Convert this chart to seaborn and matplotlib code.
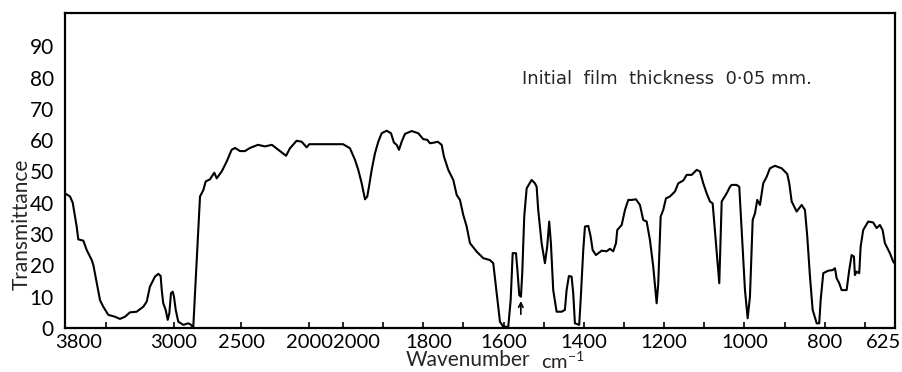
import numpy as np
import pandas as pd
import matplotlib
matplotlib.use("Agg")
import matplotlib.pyplot as plt
import matplotlib.transforms as mtransforms
from matplotlib.ticker import FixedLocator, FixedFormatter
import seaborn as sns

# ---------------- data (wavenumber cm^-1, transmittance %) ----------------
wn_high = [3800, 3763, 3743, 3714, 3702, 3665, 3640, 3603, 3591, 3566, 3542, 3518,
           3481, 3432, 3395, 3358, 3321, 3272, 3223, 3198, 3174, 3137, 3112, 3095,
           3087, 3076, 3058, 3043, 3031, 3019, 3006, 2997, 2984, 2965, 2928, 2891,
           2871, 2855, 2805, 2781, 2763, 2731, 2700, 2682, 2645, 2608, 2572, 2547,
           2510, 2474, 2437, 2378, 2326, 2275, 2216, 2171, 2142, 2093, 2056, 2019,
           2000]
tr_high = [43.0, 42.0, 40.0, 32.4, 28.3, 27.9, 24.9, 21.7, 20.1, 14.3, 8.9, 6.8,
           4.2, 3.6, 2.9, 3.6, 5.0, 5.2, 6.8, 8.4, 13.2, 16.4, 17.3, 16.6,
           12.1, 7.9, 5.8, 2.6, 4.7, 11.1, 11.6, 10.0, 5.8, 2.0, 1.0, 1.5,
           1.0, 0.0, 42.0, 44.0, 46.8, 47.5, 49.6, 47.8, 50.0, 53.2, 56.9, 57.5,
           56.5, 56.5, 57.5, 58.5, 58.0, 58.5, 56.5, 55.0, 57.4, 59.8, 59.5, 57.7,
           58.7]

wn_low = [1999.9, 1982.6, 1970.1, 1961.9, 1953.4, 1945.2, 1939.5, 1934.5, 1928.5,
          1920.3, 1912.1, 1903.6, 1891.2, 1880.4, 1873.0, 1866.3, 1860.5, 1853.8,
          1845.6, 1828.9, 1812.5, 1800.0, 1790.0, 1783.3, 1773.3, 1764.1, 1754.2,
          1748.4, 1737.7, 1725.3, 1716.8, 1708.6, 1700.4, 1691.9, 1683.7, 1667.0,
          1650.6, 1634.1, 1625.7, 1617.2, 1609.0, 1600.7, 1588.3, 1582.3, 1577.3,
          1569.1, 1564.9, 1560.9, 1556.7, 1553.5, 1548.5, 1542.5, 1530.1, 1521.9,
          1517.6, 1513.7, 1505.2, 1497.0, 1491.3, 1486.3, 1482.1, 1476.3, 1467.9,
          1455.4, 1447.2, 1443.0, 1437.3, 1430.5, 1426.5, 1422.3, 1411.6, 1408.0,
          1401.5, 1397.3, 1389.0, 1383.1, 1378.1, 1369.9, 1355.7, 1343.2, 1335.0,
          1326.8, 1320.0, 1316.8, 1305.8, 1297.6, 1289.4, 1280.9, 1270.2, 1260.3,
          1252.1, 1243.6, 1235.4, 1227.2, 1218.7, 1214.7, 1208.7, 1202.3, 1195.5,
          1185.6, 1173.1, 1164.9, 1152.4, 1143.9, 1131.5, 1119.0, 1110.8, 1102.6,
          1094.1, 1085.9, 1079.2, 1071.0, 1062.7, 1056.7, 1044.3, 1036.1, 1031.8,
          1019.4, 1012.9, 1006.9, 998.7, 992.0, 986.3, 979.5, 973.8, 968.1, 961.4,
          953.2, 944.7, 936.5, 924.0, 907.3, 893.4, 888.4, 882.4, 870.0, 857.5,
          849.3, 843.5, 836.8, 830.1, 820.1, 813.7, 810.2, 803.7, 791.3, 780.3,
          774.6, 770.4, 763.9, 757.9, 745.5, 739.0, 733.0, 727.3, 724.8, 720.6,
          714.1, 710.6, 704.2, 691.7, 679.3, 670.8, 662.6, 655.9, 650.2, 637.7,
          629.5, 625.0]
tr_low = [58.7, 57.4, 53.7, 50.5, 46.2, 41.1, 42.0, 45.7, 50.5,
          55.8, 59.5, 62.2, 63.0, 62.2, 59.2, 58.5, 56.9, 59.5,
          62.0, 62.9, 62.2, 60.3, 60.1, 59.0, 59.2, 59.5, 58.5,
          54.7, 50.5, 47.3, 42.5, 40.9, 36.1, 32.4, 27.1, 24.4,
          22.3, 21.7, 20.7, 11.1, 2.0, 0.4, 0.4, 8.9, 23.9,
          23.9, 17.5, 10.5, 10.0, 17.5, 35.6, 44.6, 47.3, 46.2,
          45.1, 37.7, 27.1, 20.7, 26.0, 34.0, 27.1, 12.1, 5.2,
          5.2, 5.8, 12.1, 16.6, 16.4, 11.1, 1.5, 1.0, 8.9,
          24.9, 32.4, 32.6, 29.2, 24.9, 23.3, 24.7, 24.5, 25.3,
          24.5, 27.1, 31.3, 32.9, 37.7, 40.9, 40.9, 41.1, 39.3,
          34.5, 34.0, 28.1, 19.6, 7.9, 14.3, 35.6, 37.7, 41.4,
          42.0, 43.6, 46.2, 47.1, 48.9, 48.9, 50.5, 50.0, 46.2,
          43.0, 40.4, 39.8, 27.1, 14.3, 40.4, 43.0, 45.1, 45.7,
          45.7, 45.1, 31.3, 12.1, 3.1, 10.0, 34.5, 36.6, 40.9, 39.3,
          46.2, 48.3, 51.0, 51.8, 51.0, 49.2, 46.2, 40.4, 37.2, 39.3,
          37.7, 29.2, 16.4, 5.8, 1.5, 1.5, 8.9, 17.5, 18.3, 18.5,
          19.1, 15.9, 14.3, 12.1, 12.1, 18.5, 23.3, 22.8, 16.9, 18.0,
          17.5, 26.0, 31.3, 34.0, 33.7, 31.9, 32.9, 31.3, 27.1, 23.9,
          21.2, 20.5]

tick_values = [3800, 3500, 3000, 2500, 2000, 1999.99, 1900, 1800, 1700, 1600, 1500,
               1400, 1300, 1200, 1100, 1000, 900, 800, 700, 625]
tick_labels = ["3800", "", "3000", "2500", "2000", "2000", "", "1800", "", "1600", "",
               "1400", "", "1200", "", "1000", "", "800", "", "625"]
ytick_values = [0, 10, 20, 30, 40, 50, 60, 70, 80, 90]

arrow_wn = 1557
arrow_tail, arrow_head = 3.5, 9.5
note = "Initial  film  thickness  0\u00b705 mm."

# ---------------- chart ----------------
sns.set_style("white")
plt.rcParams["font.family"] = ["Lato", "DejaVu Sans"]
plt.rcParams["mathtext.fontset"] = "custom"
plt.rcParams["mathtext.rm"] = "Lato"

df = pd.DataFrame({"wn": wn_high + wn_low, "T": tr_high + tr_low})

fig = plt.figure(figsize=(9.03, 3.72), dpi=100)
ax = fig.add_axes([65 / 903, 44 / 372, 830 / 903, 315 / 372])

sns.lineplot(data=df, x="wn", y="T", ax=ax, sort=False, estimator=None,
             color="black", linewidth=1.5)

# grating-change axis: two linear segments, both starting at 2000 cm-1
K1, K2, GAP = 0.1357, 0.4015, 278.0

def fwd(w):
    w = np.asarray(w, dtype=float)
    return np.where(w >= 2000, (3800 - w) * K1, GAP + (2000 - w) * K2)

def inv(x):
    x = np.asarray(x, dtype=float)
    return np.where(x <= (1800 * K1), 3800 - x / K1,
                    np.where(x >= GAP, 2000 - (x - GAP) / K2, 2000.0))

ax.set_xscale("function", functions=(fwd, inv))
ax.set_xlim(3800, 625)
ax.set_ylim(0, 100.6)
# make sure 3800 is on the left
if ax.transData.transform((3800, 0))[0] > ax.transData.transform((625, 0))[0]:
    ax.invert_xaxis()

ax.xaxis.set_major_locator(FixedLocator(tick_values))
ax.xaxis.set_major_formatter(FixedFormatter(tick_labels))
ax.xaxis.set_minor_locator(FixedLocator([]))
ax.set_yticks(ytick_values)
ax.set_yticklabels([str(v) for v in ytick_values])

ax.tick_params(axis="x", direction="in", length=4, width=1.2, pad=4,
               labelsize=14.5, colors="black", bottom=True)
ax.tick_params(axis="y", length=0, pad=8, labelsize=15, colors="black")

for sp in ax.spines.values():
    sp.set_visible(True)
    sp.set_color("black")
    sp.set_linewidth(1.6)

# nudge a few labels as in the original print
offsets = {0: 10, 5: 10, 7: 4, 19: -8}
for i, lab in enumerate(ax.get_xticklabels()):
    if i in offsets:
        lab.set_transform(lab.get_transform() +
                          mtransforms.ScaledTranslation(offsets[i] / 72, 0, fig.dpi_scale_trans))

ax.set_xlabel("")
ax.set_ylabel("")

fig.text(22 / 903, (372 - 224) / 372, "Transmittance", rotation=90,
         ha="center", va="center", fontsize=15)
fig.text(468 / 903, (372 - 360) / 372, "Wavenumber", ha="center", va="center",
         fontsize=15)
fig.text(541 / 903, (372 - 361) / 372, r"cm$^{\mathregular{-1}}$", ha="left",
         va="center", fontsize=14.5)

ax.text(0.551, 0.79, note, transform=ax.transAxes, ha="left", va="center",
        fontsize=13, family="DejaVu Sans")

ax.annotate("", xy=(arrow_wn, arrow_head), xytext=(arrow_wn, arrow_tail),
            arrowprops=dict(arrowstyle="->", color="black", lw=1.2,
                            mutation_scale=8))

fig.savefig("out.png", dpi=100)
